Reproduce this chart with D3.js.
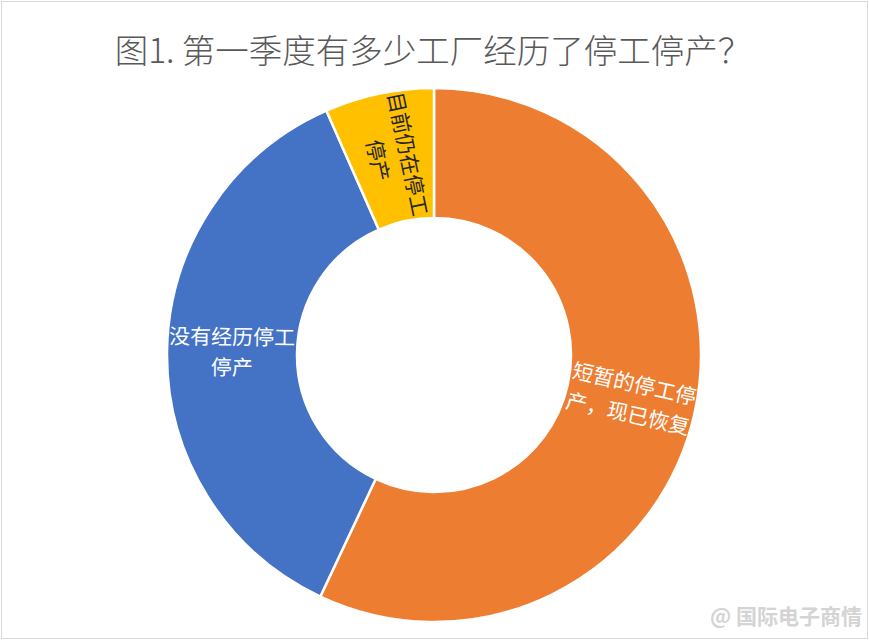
<!DOCTYPE html>
<html>
<head>
<meta charset="utf-8">
<script src="https://cdn.jsdelivr.net/npm/d3@7"></script>
<style>
  body { margin: 0; background: #fff; }
  svg { display: block; }
  text { font-family: "Noto Sans CJK SC", "Microsoft YaHei", sans-serif; }
</style>
</head>
<body>
<script>
// data (share of factories, %)
var categories = ["短暂的停工停产，现已恢复", "没有经历停工停产", "目前仍在停工停产"];
var values = [57.0, 36.4, 6.6];
// label lines as wrapped in the original
var labelLines = [["短暂的停工停", "产，现已恢复"], ["没有经历停工", "停产"], ["目前仍在停工", "停产"]];
var colors = ["#ED7D31", "#4472C4", "#FFC000"];
var labelColors = ["#ffffff", "#ffffff", "#262626"];

var width = 869, height = 641;
var cx = 434, cy = 355, outerR = 267, innerR = 137;

var svg = d3.select("body").append("svg")
  .attr("width", width)
  .attr("height", height);

// light frame round the chart area
svg.append("rect")
  .attr("x", 1.5).attr("y", 1.5)
  .attr("width", width - 3).attr("height", height - 4)
  .attr("fill", "#fff")
  .attr("stroke", "#d9d9d9");

// title
svg.append("text")
  .attr("x", 433).attr("y", 63)
  .attr("text-anchor", "middle")
  .attr("font-size", 33.5)
  .attr("font-weight", 300)
  .attr("fill", "#595959")
  .text("图1. 第一季度有多少工厂经历了停工停产？");

var pie = d3.pie().sort(null).value(function(d){ return d; });
var arcs = pie(values);

var arc = d3.arc().innerRadius(innerR).outerRadius(outerR);
var g = svg.append("g").attr("transform", "translate(" + cx + "," + cy + ")");

g.selectAll("path")
  .data(arcs)
  .enter()
  .append("path")
    .attr("d", arc)
    .attr("fill", function(d, i){ return colors[i]; })
    .attr("stroke", "#fff")
    .attr("stroke-width", 2.5);

// labels sit in the middle of the ring, turned to run along the radius
var midR = (innerR + outerR) / 2;
var lineH = 30.5;
var labels = g.selectAll("text.label")
  .data(arcs)
  .enter()
  .append("text")
    .attr("class", "label")
    .attr("text-anchor", "middle")
    .attr("font-size", 21)
    .attr("fill", function(d, i){ return labelColors[i]; })
    .attr("transform", function(d){
      var a = (d.startAngle + d.endAngle) / 2;
      var x = midR * Math.sin(a), y = -midR * Math.cos(a);
      var deg = a * 180 / Math.PI;
      var rot = deg < 180 ? deg - 90 : deg - 270;
      return "translate(" + x + "," + y + ") rotate(" + rot + ")";
    });

// one text per label, its lines as tspans
labels.each(function(d, i){
  var lines = labelLines[i];
  var sel = d3.select(this);
  lines.forEach(function(t, k){
    sel.append("tspan")
      .attr("x", 0)
      .attr("y", (k - (lines.length - 1) / 2) * lineH)
      .attr("dy", "0.35em")
      .text(t);
  });
});

// watermark
svg.append("text")
  .attr("x", 862).attr("y", 624)
  .attr("text-anchor", "end")
  .attr("font-size", 21)
  .attr("font-weight", "bold")
  .attr("fill", "#d4d4d4")
  .text("@ 国际电子商情");
</script>
</body>
</html>
